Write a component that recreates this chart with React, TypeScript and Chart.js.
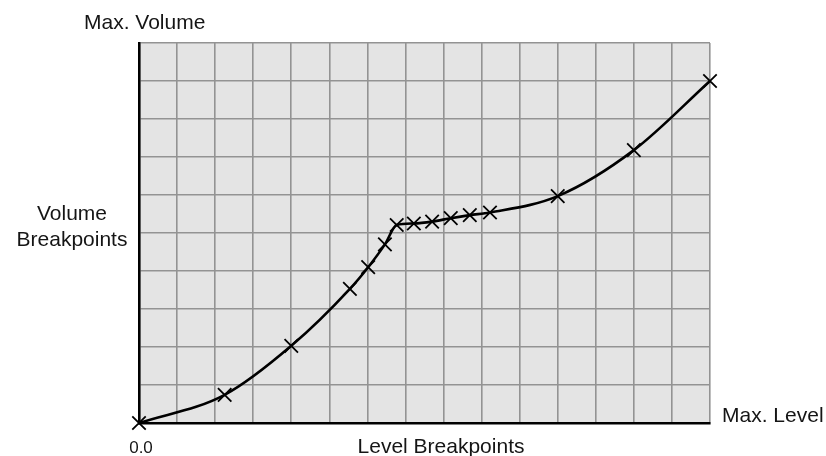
import React, { useEffect, useRef } from "react";
import { Chart, registerables } from "chart.js";

Chart.register(...registerables);

const levelBreakpoints = [0, 2.25, 4.0, 5.54, 6.02, 6.46, 6.77, 7.22, 7.7, 8.19, 8.69, 9.22, 11.0, 13.0, 15.0];
const volumeBreakpoints = [0, 0.74, 2.03, 3.53, 4.1, 4.7, 5.21, 5.25, 5.3, 5.39, 5.47, 5.54, 5.97, 7.18, 9.0];

const xTitle = "Level Breakpoints";
const yTitle = ["Volume", "Breakpoints"];
const xMaxLabel = "Max. Level";
const yMaxLabel = "Max. Volume";
const originLabel = "0.0";

const FONT = "'Liberation Sans', Arial, sans-serif";

const labelsPlugin = {
  id: "labels",
  beforeDraw(chart: any) {
    const { ctx, chartArea } = chart;
    ctx.save();
    ctx.fillStyle = "#e4e4e4";
    ctx.fillRect(chartArea.left, chartArea.top, chartArea.right - chartArea.left, chartArea.bottom - chartArea.top);
    ctx.restore();
  },
  afterDraw(chart: any) {
    const { ctx, chartArea } = chart;
    ctx.save();
    ctx.fillStyle = "#151515";
    ctx.textBaseline = "alphabetic";
    ctx.font = `21px ${FONT}`;
    ctx.textAlign = "left";
    ctx.fillText(yMaxLabel, chartArea.left - 55, chartArea.top - 14);
    ctx.textAlign = "center";
    ctx.fillText(yTitle[0], chartArea.left - 67, chartArea.top + 177);
    ctx.fillText(yTitle[1], chartArea.left - 67, chartArea.top + 203);
    ctx.fillText(xTitle, chartArea.left + 302, chartArea.bottom + 30);
    ctx.textAlign = "left";
    ctx.fillText(xMaxLabel, chartArea.right + 12, chartArea.bottom - 1);
    ctx.font = `17px ${FONT}`;
    ctx.textAlign = "center";
    ctx.fillText(originLabel, chartArea.left + 2, chartArea.bottom + 30);
    ctx.restore();
  },
};

export default function App() {
  const ref = useRef<HTMLCanvasElement>(null);
  useEffect(() => {
    const data = levelBreakpoints.map((x, i) => ({ x, y: volumeBreakpoints[i] }));
    const chart = new Chart(ref.current!, {
      type: "scatter",
      data: {
        datasets: [
          {
            data,
            showLine: true,
            borderColor: "#000",
            borderWidth: 2.6,
            cubicInterpolationMode: "monotone",
            pointStyle: "crossRot",
            pointRadius: 9.5,
            pointBorderWidth: 1.8,
            pointBorderColor: "#000",
            clip: false,
          } as any,
        ],
      },
      options: {
        responsive: false,
        animation: false,
        layout: { padding: { left: 139, top: 43, right: 116, bottom: 33 } },
        plugins: { legend: { display: false }, tooltip: { enabled: false } },
        scales: {
          x: {
            type: "linear",
            min: 0,
            max: 15,
            ticks: { display: false, stepSize: 1 },
            grid: { color: "#939393", lineWidth: 1.6, drawTicks: false },
            border: { color: "#000", width: 2.6 },
          },
          y: {
            type: "linear",
            min: 0,
            max: 10,
            ticks: { display: false, stepSize: 1 },
            grid: { color: "#939393", lineWidth: 1.6, drawTicks: false },
            border: { color: "#000", width: 2.6 },
          },
        },
      },
      plugins: [labelsPlugin],
    });
    return () => chart.destroy();
  }, []);
  return (
    <div style={{ position: "fixed", left: 0, top: 0, width: 826, height: 456, background: "#fff" }}>
      <canvas ref={ref} width={826} height={456} />
    </div>
  );
}
